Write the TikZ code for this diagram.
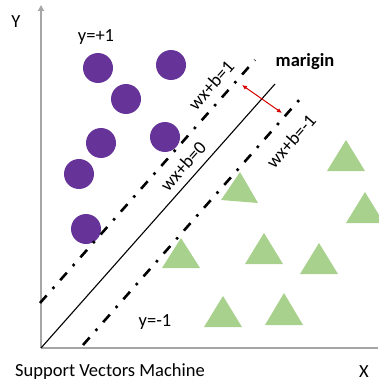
\documentclass[tikz,border=0pt]{standalone}
\usepackage{fontspec}
\setmainfont{Carlito}
\usetikzlibrary{arrows.meta}
\definecolor{svmpurple}{HTML}{663399}
\definecolor{svmgreen}{HTML}{A9D18E}
\definecolor{axisgray}{HTML}{A6A6A6}
\tikzset{
  pt/.style={circle, fill=svmpurple, minimum size=30pt, inner sep=0pt},
  tri/.style={fill=svmgreen},
  dashdot/.style={line width=2.6pt, line cap=butt, dash pattern=on 10pt off 9pt on 2.5pt off 9pt},
  lbl/.style={font=\fontsize{18.5}{20}\selectfont, inner sep=0pt},
  rlbl/.style={lbl, rotate=48.5},
}
\begin{document}
\begin{tikzpicture}[x=1pt, y=-1pt]
\useasboundingbox (0,0) rectangle (378,385);
% axes
\coordinate (O) at (41,348);
\coordinate (Ytop) at (41,5);
\coordinate (Xend) at (378,348);
\draw[axisgray, line width=1.4pt, -{Triangle[length=6pt,width=6pt]}] (O) -- (Ytop);
\draw[axisgray, line width=1.4pt] (O) -- (Xend);
\node[lbl] (ylab) at (16,22) {Y};
\node[lbl] (xlab) at (364,372) {X};
\node[lbl, anchor=west] (title) at (15,372) {Support Vectors Machine};
% class labels
\node[lbl] (yp) at (96,37) {y=+1};
\node[lbl] (ym) at (155,322) {y=-1};
\node[lbl, font=\fontsize{18.5}{20}\selectfont\bfseries] (mar) at (305,62) {marigin};
% circles
\node[pt] (c1) at (98,68) {};
\node[pt] (c2) at (171,65) {};
\node[pt] (c3) at (126,99) {};
\node[pt] (c4) at (101,143) {};
\node[pt] (c5) at (165,137) {};
\node[pt] (c6) at (79,174) {};
\node[pt] (c7) at (86,229) {};
% triangles
\fill[tri] (346,140) -- (327,171) -- (365,171) -- cycle;
\fill[tri] (240,172) -- (221,200) -- (258,203) -- cycle;
\fill[tri] (365,192) -- (346,223) -- (384,223) -- cycle;
\fill[tri] (181,238) -- (162,268) -- (200,268) -- cycle;
\fill[tri] (264,233) -- (245,264) -- (283,264) -- cycle;
\fill[tri] (319,243) -- (300,274) -- (338,274) -- cycle;
\fill[tri] (223,296) -- (204,327) -- (242,327) -- cycle;
\fill[tri] (284,293) -- (265,325) -- (303,325) -- cycle;
% separating lines
\coordinate (h0a) at (41,348);
\coordinate (h0b) at (275,84);
\coordinate (h1a) at (40,303);
\coordinate (h1b) at (255,60);
\coordinate (h2a) at (83,345);
\coordinate (h2b) at (300,99);
\draw[line width=1.1pt] (h0a) -- (h0b);
\draw[dashdot] (h1a) -- (h1b);
\draw[dashdot] (h2a) -- (h2b);
\node[rlbl] (l1) at (211,85) {wx+b=1};
\node[rlbl] (l0) at (183,166) {wx+b=0};
\node[rlbl] (l2) at (291,141) {wx+b=-1};
% margin arrow
\coordinate (ma) at (242,85);
\coordinate (mb) at (282,113);
\draw[red!85!black, line width=1pt, {Latex[length=5pt,width=4.5pt]}-{Latex[length=5pt,width=4.5pt]}] (ma) -- (mb);
\end{tikzpicture}
\end{document}
